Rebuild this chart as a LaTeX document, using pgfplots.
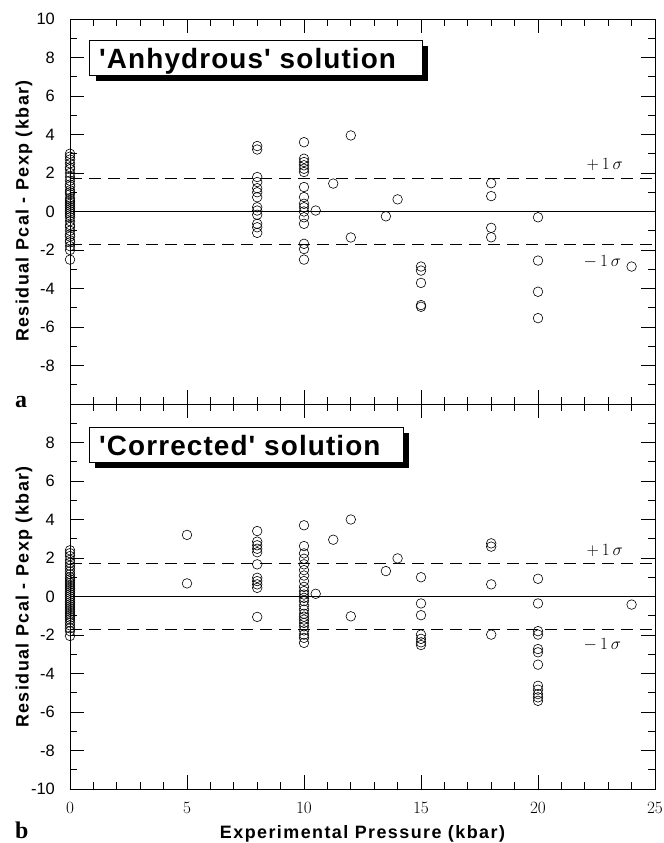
\documentclass[border=0pt]{standalone}
\usepackage{pgfplots}
\pgfplotsset{compat=1.18}
\usetikzlibrary{calc}
\usepackage{fontspec}
\setmainfont{Liberation Sans}
\newfontfamily\lblfont[LetterSpace=8]{Liberation Sans}
\newfontfamily\titlefont[LetterSpace=4]{Liberation Sans}
\newfontfamily\seriffont{Liberation Serif}

\pgfplotsset{
  resid/.style={
    width=585bp, height=385bp, scale only axis,
    xmin=0, xmax=25, ymin=-10, ymax=10,
    axis line style={line width=0.9bp},
    tick align=inside, major tick length=14bp, minor tick length=7bp,
    every tick/.style={black, line width=0.8bp},
    xtick={0,5,...,25}, minor x tick num=4,
    ytick={-10,-8,...,10}, minor y tick num=1,
    ticklabel style={font=\fontsize{16.5}{16.5}\selectfont},
    yticklabel style={inner sep=0pt, xshift=-15bp},
    xticklabel style={inner sep=0pt, yshift=-13bp},
    clip=false,
  },
  circ/.style={only marks, mark=o, mark size=4.8bp, black, mark options={line width=0.6bp}},
}

\begin{document}
\begin{tikzpicture}
\useasboundingbox (-70bp,-54bp) rectangle (594bp,789bp);

% ---------------- top panel ----------------
\begin{axis}[resid, name=top, at={(0,385bp)}, anchor=south west,
  xticklabels={}, yticklabels={,-8,-6,-4,-2,0,2,4,6,8,10}]
\fill[black] ($(axis cs:0.85,8.9)+(6.5bp,-6bp)$) rectangle ($(axis cs:15.04,7.08)+(6.5bp,-6bp)$);
\draw[fill=white, line width=0.8bp] (axis cs:0.85,8.9) rectangle (axis cs:15.04,7.08);
\node[anchor=base west, inner sep=0pt] at (axis cs:1.24,7.43) {\titlefont\bfseries\fontsize{28}{28}\selectfont 'Anhydrous' solution};
\addplot[black, line width=0.6bp] coordinates {(0,0) (25,0)};
\addplot[black, line width=0.6bp, dash pattern=on 12bp off 7bp] coordinates {(0,1.75) (25,1.75)};
\addplot[black, line width=0.6bp, dash pattern=on 12bp off 7bp] coordinates {(0,-1.72) (25,-1.72)};
\node at (axis cs:22.85,2.45) {\fontsize{19}{19}\selectfont $+\,1\,\sigma$};
\node at (axis cs:22.75,-2.6) {\fontsize{19}{19}\selectfont $-\,1\,\sigma$};
\addplot[circ] table {
x y
0 3.0
0 2.85
0 2.7
0 2.5
0 2.3
0 2.2
0 2.0
0 1.8
0 1.6
0 1.4
0 1.3
0 1.1
0 1.0
0 0.9
0 0.7
0 0.6
0 0.5
0 0.4
0 0.3
0 0.2
0 0.1
0 0.0
0 -0.1
0 -0.2
0 -0.3
0 -0.5
0 -0.7
0 -0.8
0 -1.0
0 -1.2
0 -1.3
0 -1.5
0 -1.6
0 -1.8
0 -2.0
0 -2.5
8 3.4
8 3.22
8 1.79
8 1.53
8 1.21
8 1.0
8 0.74
8 0.22
8 0.05
8 -0.17
8 -0.64
8 -0.82
8 -1.11
10 3.6
10 2.74
10 2.57
10 2.4
10 2.22
10 2.05
10 1.27
10 0.75
10 0.4
10 0.22
10 0.0
10 -0.3
10 -0.64
10 -1.68
10 -1.95
10 -2.5
10.5 0.05
11.25 1.45
12 3.95
12 -1.35
13.5 -0.25
14 0.63
15 -2.86
15 -3.07
15 -3.71
15 -4.86
15 -4.95
18 1.47
18 0.8
18 -0.85
18 -1.34
20 -0.3
20 -2.55
20 -4.17
20 -5.54
24 -2.86
};
\end{axis}

% ---------------- bottom panel ----------------
\begin{axis}[resid, name=bot, at={(0,0)}, anchor=south west,
  yticklabels={-10,-8,-6,-4,-2,0,2,4,6,8,}]
\fill[black] ($(axis cs:0.81,8.8)+(6.5bp,-6bp)$) rectangle ($(axis cs:14.23,6.98)+(6.5bp,-6bp)$);
\draw[fill=white, line width=0.8bp] (axis cs:0.81,8.8) rectangle (axis cs:14.23,6.98);
\node[anchor=base west, inner sep=0pt] at (axis cs:1.24,7.31) {\titlefont\bfseries\fontsize{28}{28}\selectfont 'Corrected' solution};
\addplot[black, line width=0.6bp] coordinates {(0,0) (25,0)};
\addplot[black, line width=0.6bp, dash pattern=on 12bp off 7bp] coordinates {(0,1.7) (25,1.7)};
\addplot[black, line width=0.6bp, dash pattern=on 12bp off 7bp] coordinates {(0,-1.72) (25,-1.72)};
\node at (axis cs:22.85,2.4) {\fontsize{19}{19}\selectfont $+\,1\,\sigma$};
\node at (axis cs:22.75,-2.5) {\fontsize{19}{19}\selectfont $-\,1\,\sigma$};
\addplot[circ] table {
x y
0 2.4
0 2.25
0 2.1
0 1.9
0 1.75
0 1.6
0 1.45
0 1.3
0 1.15
0 1.0
0 0.9
0 0.8
0 0.7
0 0.6
0 0.5
0 0.4
0 0.3
0 0.2
0 0.1
0 0.0
0 -0.1
0 -0.2
0 -0.3
0 -0.4
0 -0.5
0 -0.6
0 -0.7
0 -0.8
0 -0.9
0 -1.0
0 -1.1
0 -1.2
0 -1.35
0 -1.5
0 -1.65
0 -1.8
0 -2.05
5 3.2
5 0.68
8 3.4
8 2.85
8 2.66
8 2.48
8 2.3
8 1.67
8 0.97
8 0.8
8 0.63
8 0.45
8 -1.06
10 3.7
10 2.62
10 2.24
10 1.96
10 1.67
10 1.37
10 1.09
10 0.8
10 0.5
10 0.28
10 0.1
10 -0.07
10 -0.24
10 -0.47
10 -0.68
10 -0.9
10 -1.05
10 -1.2
10 -1.37
10 -1.55
10 -1.76
10 -1.98
10 -2.15
10 -2.41
10.5 0.14
11.25 2.95
12 4.0
12 -1.03
13.5 1.32
14 1.98
15 1.0
15 -0.36
15 -0.97
15 -1.98
15 -2.2
15 -2.38
15 -2.52
18 2.76
18 2.59
18 0.63
18 -1.98
20 0.92
20 -0.36
20 -1.8
20 -1.98
20 -2.73
20 -2.9
20 -3.54
20 -4.64
20 -4.84
20 -5.07
20 -5.24
20 -5.42
24 -0.42
};
\end{axis}

% labels
\node[rotate=90] at (-46bp,578bp) {\lblfont\bfseries\fontsize{18}{18}\selectfont Residual Pcal - Pexp (kbar)};
\node[rotate=90] at (-46bp,192bp) {\lblfont\bfseries\fontsize{18}{18}\selectfont Residual Pcal - Pexp (kbar)};
\node[anchor=base] at (292.5bp,-49bp) {\lblfont\bfseries\fontsize{18}{18}\selectfont Experimental Pressure (kbar)};
\node[anchor=base west, inner sep=0pt] at (-55bp,381bp) {\seriffont\bfseries\fontsize{24}{24}\selectfont a};
\node[anchor=base west, inner sep=0pt] at (-55bp,-49bp) {\seriffont\bfseries\fontsize{24}{24}\selectfont b};
\end{tikzpicture}
\end{document}
